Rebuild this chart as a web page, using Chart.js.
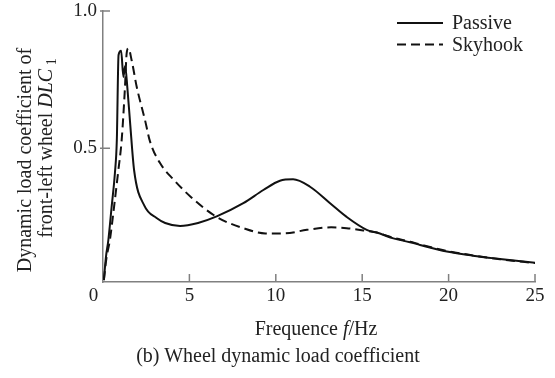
<!DOCTYPE html>
<html>
<head>
<meta charset="utf-8">
<script src="https://cdn.jsdelivr.net/npm/chart.js@4/dist/chart.umd.min.js"></script>
<style>
  html, body { margin: 0; padding: 0; background: #fff; }
  #wrap { position: relative; width: 555px; height: 378px; overflow: hidden; }
  canvas { position: absolute; left: 0; top: 0; }
  .txt { position: absolute; font-family: "Liberation Serif", "Times New Roman", serif; color: #222; white-space: nowrap; line-height: 1; }
  .rot { transform: translate(-50%, -50%) rotate(-90deg); }
  .ctr { transform: translate(-50%, -50%); }
  sub { font-size: 0.7em; vertical-align: -0.25em; }
</style>
</head>
<body>
<div id="wrap">
  <canvas id="c" width="555" height="378"></canvas>
  <div class="txt rot" style="left:24px; top:160px; font-size:20px;">Dynamic load coefficient of</div>
  <div class="txt rot" style="left:47px; top:148px; font-size:20px;">front-left wheel <i>DLC</i><sub>&nbsp;1</sub></div>
  <div class="txt ctr" style="left:316px; top:328px; font-size:20px;">Frequence <i>f</i>/Hz</div>
  <div class="txt ctr" style="left:278px; top:355px; font-size:20px;">(b) Wheel dynamic load coefficient</div>
</div>
<script>
// ---- data ----
const passiveFreq = [0.05, 0.17, 0.31, 0.5, 0.69, 0.8, 0.9, 1.05, 1.18, 1.28, 1.41, 1.56, 1.8, 2.4, 3.1, 3.6, 4.46, 5.5, 6.58, 8.12, 9.28, 10.24, 11.0, 11.98, 13.14, 14.1, 15.26, 15.84, 16.8, 17.77, 18.35, 19.9, 21.4, 22.97, 25];
const passiveDLC  = [0.02, 0.104, 0.166, 0.287, 0.41, 0.53, 0.84, 0.855, 0.76, 0.80, 0.72, 0.60, 0.42, 0.29, 0.246, 0.228, 0.217, 0.228, 0.252, 0.30, 0.348, 0.382, 0.387, 0.36, 0.30, 0.25, 0.203, 0.193, 0.172, 0.158, 0.148, 0.124, 0.109, 0.097, 0.083];

const skyhookFreq = [0.05, 0.2, 0.4, 0.64, 0.87, 1.08, 1.27, 1.37, 1.47, 1.66, 1.95, 2.43, 2.72, 3.3, 4.1, 5.1, 6.58, 8.12, 9.4, 10.5, 11.8, 13.2, 14.1, 15.26, 15.84, 16.8, 17.77, 18.35, 19.9, 21.4, 22.97, 25];
const skyhookDLC  = [0.02, 0.1, 0.166, 0.287, 0.41, 0.53, 0.72, 0.847, 0.864, 0.82, 0.724, 0.603, 0.525, 0.446, 0.385, 0.322, 0.25, 0.209, 0.19, 0.19, 0.203, 0.212, 0.209, 0.199, 0.193, 0.174, 0.16, 0.15, 0.126, 0.11, 0.096, 0.082];

const seriesNames = ["Passive", "Skyhook"];
const xTicks = [0, 5, 10, 15, 20, 25];
const yTicks = [0.5, 1.0];

const FONT = '"Liberation Serif", "Times New Roman", serif';
const AXIS_COLOR = '#808080';

const toPts = (xs, ys) => xs.map((x, i) => ({ x: x, y: ys[i] }));

const tickMarks = {
  id: 'tickMarks',
  afterDraw(chart) {
    const ctx = chart.ctx;
    const xs = chart.scales.x, ys = chart.scales.y;
    const a = chart.chartArea;
    ctx.save();
    ctx.strokeStyle = AXIS_COLOR;
    ctx.lineWidth = 1.5;
    ctx.beginPath();
    xs.ticks.forEach(t => {
      if (t.value === 0) return;
      const px = xs.getPixelForValue(t.value);
      ctx.moveTo(px, a.bottom);
      ctx.lineTo(px, a.bottom - 8);
    });
    ys.ticks.forEach(t => {
      const py = ys.getPixelForValue(t.value);
      ctx.moveTo(a.left - 3, py);
      ctx.lineTo(a.left + 7, py);
    });
    ctx.stroke();
    ctx.restore();
  }
};

const legendLines = {
  id: 'legendLines',
  afterDraw(chart) {
    const ctx = chart.ctx;
    ctx.save();
    chart.data.datasets.forEach((ds, i) => {
      const y = 23 + i * 21.5;
      ctx.strokeStyle = ds.borderColor;
      ctx.lineWidth = 2;
      ctx.setLineDash(ds.borderDash || []);
      ctx.beginPath();
      ctx.moveTo(397, y);
      ctx.lineTo(443, y);
      ctx.stroke();
      ctx.setLineDash([]);
      ctx.fillStyle = '#222';
      ctx.font = '20px ' + FONT;
      ctx.textBaseline = 'middle';
      ctx.textAlign = 'left';
      ctx.fillText(ds.label, 452, y + 1);
    });
    ctx.restore();
  }
};

new Chart(document.getElementById('c'), {
  type: 'line',
  data: {
    datasets: [
      { label: seriesNames[0], data: toPts(passiveFreq, passiveDLC), borderColor: '#111', borderWidth: 2, pointRadius: 0, cubicInterpolationMode: 'monotone', fill: false },
      { label: seriesNames[1], data: toPts(skyhookFreq, skyhookDLC), borderColor: '#111', borderWidth: 2, borderDash: [9, 5], pointRadius: 0, cubicInterpolationMode: 'monotone', fill: false }
    ]
  },
  options: {
    responsive: false,
    animation: false,
    events: [],
    layout: { padding: { left: 0, right: 20, top: 11, bottom: 0 } },
    plugins: { legend: { display: false }, tooltip: { enabled: false }, title: { display: false } },
    scales: {
      x: {
        type: 'linear', min: 0, max: 25,
        afterBuildTicks: s => { s.ticks = xTicks.map(v => ({ value: v })); },
        afterFit: s => { s.height = 96; s.paddingLeft = 0; s.paddingRight = 0; },
        grid: { display: false, drawTicks: false },
        border: { display: true, color: AXIS_COLOR, width: 1.5 },
        ticks: {
          autoSkip: false, maxRotation: 0, padding: 3, color: '#222',
          font: { family: FONT, size: 19 },
          callback: v => v === 0 ? '0\u2002\u2002' : String(v)
        }
      },
      y: {
        type: 'linear', min: 0.013, max: 1.0,
        afterBuildTicks: s => { s.ticks = yTicks.map(v => ({ value: v })); },
        afterFit: s => { s.width = 103; s.paddingTop = 0; s.paddingBottom = 0; },
        grid: { display: false, drawTicks: false },
        border: { display: true, color: AXIS_COLOR, width: 1.5 },
        ticks: {
          padding: 6, color: '#222',
          font: { family: FONT, size: 19 },
          callback: v => v.toFixed(1)
        }
      }
    }
  },
  plugins: [tickMarks, legendLines]
});
</script>
</body>
</html>
